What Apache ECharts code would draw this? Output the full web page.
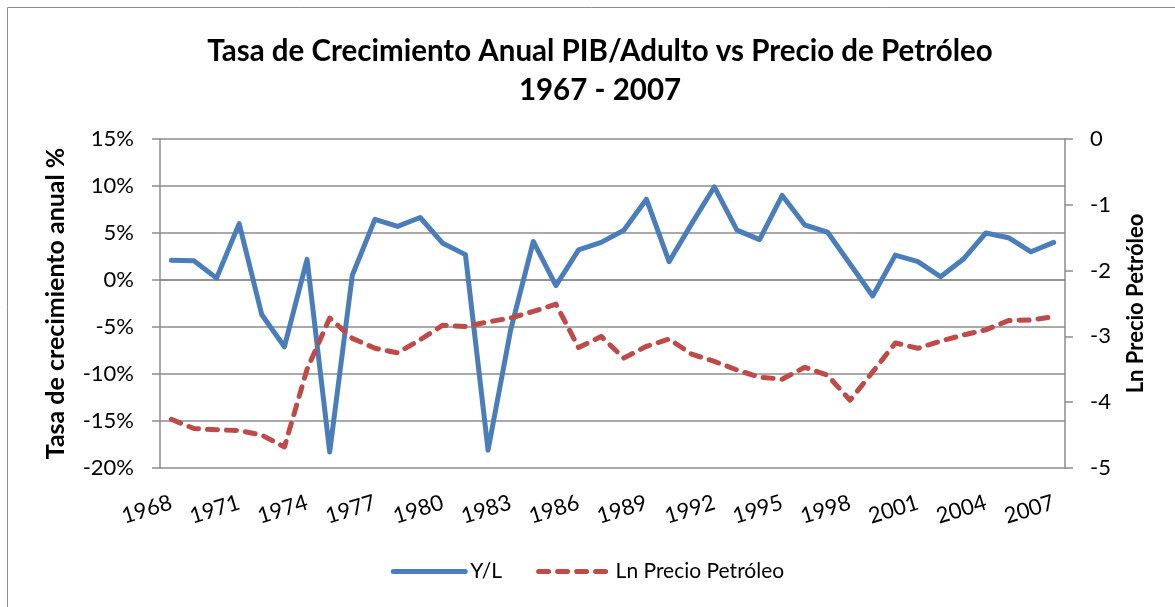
<!DOCTYPE html>
<html>
<head>
<meta charset="utf-8">
<script src="https://cdn.jsdelivr.net/npm/echarts@6/dist/echarts.min.js"></script>
<style>
  html, body { margin: 0; padding: 0; background: #fff; }
  #chart { width: 1175px; height: 607px; }
</style>
</head>
<body>
<div id="chart"></div>
<script>
const years = ['1968', '1969', '1970', '1971', '1972', '1973', '1974', '1975', '1976', '1977',
  '1978', '1979', '1980', '1981', '1982', '1983', '1984', '1985', '1986', '1987',
  '1988', '1989', '1990', '1991', '1992', '1993', '1994', '1995', '1996', '1997',
  '1998', '1999', '2000', '2001', '2002', '2003', '2004', '2005', '2006', '2007']

// Y/L, tasa de crecimiento anual (%)
const ylGrowth = [2.1, 2.05, 0.2, 6.0, -3.7, -7.1, 2.2, -18.3, 0.5, 6.45,
  5.7, 6.65, 3.9, 2.7, -18.1, -5.3, 4.1, -0.6, 3.2, 4.0,
  5.3, 8.6, 1.95, 6.0, 9.9, 5.3, 4.3, 9.0, 5.85, 5.1,
  1.7, -1.7, 2.65, 1.95, 0.35, 2.2, 5.0, 4.5, 3.0, 4.0]

// Ln precio del petróleo
const lnOil = [-4.26, -4.40, -4.42, -4.43, -4.50, -4.68, -3.5, -2.72, -3.03, -3.18,
  -3.25, -3.05, -2.83, -2.85, -2.78, -2.72, -2.62, -2.51, -3.17, -3.0,
  -3.33, -3.15, -3.04, -3.27, -3.38, -3.51, -3.62, -3.65, -3.47, -3.59,
  -3.97, -3.54, -3.10, -3.18, -3.07, -2.98, -2.90, -2.76, -2.75, -2.70]

const font = 'Lato, "Open Sans", sans-serif'
const gray = '#8c8c8c'

const chart = echarts.init(document.getElementById('chart'))
chart.setOption({
  animation: false,
  textStyle: { fontFamily: font, color: '#000' },
  graphic: [{
    type: 'rect',
    shape: { x: 7.5, y: 7.5, width: 1200, height: 700 },
    style: { fill: 'none', stroke: gray, lineWidth: 1 },
    silent: true
  }],
  title: {
    text: 'Tasa de Crecimiento Anual PIB/Adulto vs Precio de Petróleo\n1967 - 2007',
    left: 595,
    textAlign: 'center',
    top: 27,
    textStyle: { fontFamily: font, fontSize: 29.5, fontWeight: 'bold', lineHeight: 39, color: '#000' }
  },
  legend: {
    bottom: 20,
    left: 'center',
    itemWidth: 72,
    itemHeight: 14,
    itemGap: 34,
    itemStyle: { opacity: 0 },
    lineStyle: { width: 5 },
    textStyle: { fontFamily: font, fontSize: 21, color: '#000' },
    data: ['Y/L', 'Ln Precio Petróleo']
  },
  grid: { left: 160, right: 110, top: 139, height: 329 },
  xAxis: {
    type: 'category',
    data: years,
    boundaryGap: true,
    axisLine: { lineStyle: { color: gray, width: 1.5 } },
    axisTick: { show: false },
    axisLabel: { interval: 2, rotate: 17, margin: 34, fontSize: 22, color: '#000', fontFamily: font }
  },
  yAxis: [
    {
      type: 'value',
      min: -20,
      max: 15,
      interval: 5,
      name: 'Tasa de crecimiento anual %',
      nameLocation: 'middle',
      nameRotate: 90,
      nameGap: 92,
      nameTextStyle: { fontSize: 25, fontWeight: 'bold', color: '#000', fontFamily: font },
      axisLine: { show: true, lineStyle: { color: gray, width: 1.5 } },
      axisTick: { show: true, inside: false, length: 8, lineStyle: { color: gray, width: 1.5 } },
      axisLabel: { formatter: v => v + '%', margin: 26, fontSize: 22, color: '#000', fontFamily: font },
      splitLine: { show: true, lineStyle: { color: gray, width: 1.5 } }
    },
    {
      type: 'value',
      min: -5,
      max: 0,
      interval: 1,
      position: 'right',
      name: 'Ln Precio Petróleo',
      nameLocation: 'middle',
      nameRotate: 90,
      nameGap: 60,
      nameTextStyle: { fontSize: 22, fontWeight: 'bold', color: '#000', fontFamily: font },
      axisLine: { show: true, lineStyle: { color: gray, width: 1.5 } },
      axisTick: { show: true, inside: false, length: 8, lineStyle: { color: gray, width: 1.5 } },
      axisLabel: { margin: 25, fontSize: 22, color: '#000', fontFamily: font },
      splitLine: { show: false }
    }
  ],
  series: [
    {
      name: 'Y/L',
      type: 'line',
      yAxisIndex: 0,
      data: ylGrowth,
      symbol: 'none',
      color: '#4a7ebb',
      lineStyle: { color: '#4a7ebb', width: 5, cap: 'round', join: 'round' }
    },
    {
      name: 'Ln Precio Petróleo',
      type: 'line',
      yAxisIndex: 1,
      data: lnOil,
      symbol: 'none',
      color: '#be4b48',
      lineStyle: { color: '#be4b48', width: 5, type: [10, 9], cap: 'round', join: 'round' }
    }
  ]
})

window.addEventListener('resize', () => chart.resize())
</script>
</body>
</html>
